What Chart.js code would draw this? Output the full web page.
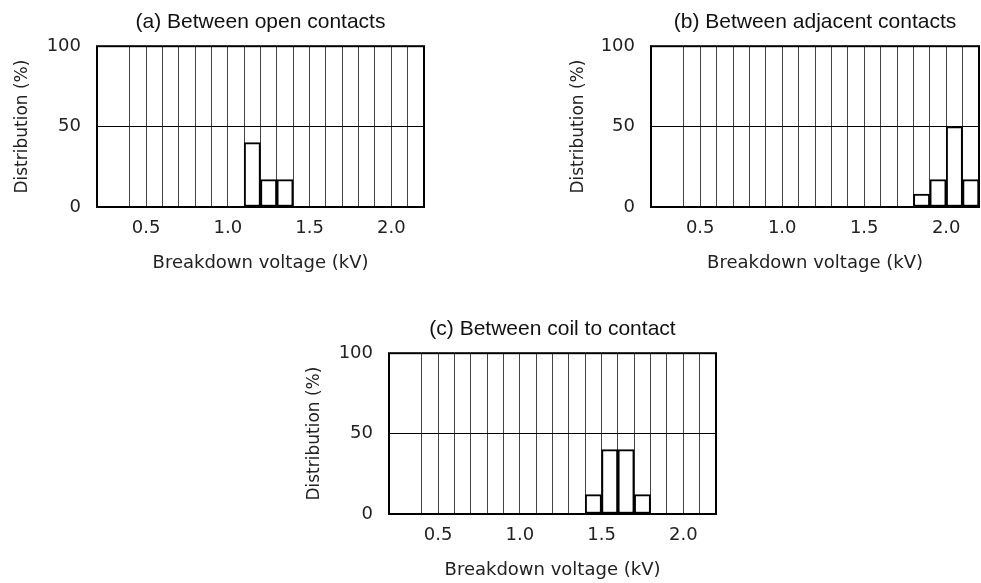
<!DOCTYPE html>
<html>
<head>
<meta charset="utf-8">
<script src="https://cdn.jsdelivr.net/npm/chart.js@4"></script>
<style>
  body { margin: 0; background: #fff; overflow: hidden; }
  .box { position: absolute; }
</style>
</head>
<body>
<div class="box" style="left:0px;top:0px;width:440px;height:276px"><canvas id="chartA"></canvas></div>
<div class="box" style="left:554px;top:0px;width:436px;height:276px"><canvas id="chartB"></canvas></div>
<div class="box" style="left:292px;top:307px;width:440px;height:276px"><canvas id="chartC"></canvas></div>
<script>
// bin centres (kV) and share of samples (%) per panel
const binsA = [1.15, 1.25, 1.35];
const valuesA = [40, 17, 17];
const binsB = [1.85, 1.95, 2.05, 2.15];
const valuesB = [8, 17, 50, 17];
const binsC = [1.45, 1.55, 1.65, 1.75];
const valuesC = [12, 40, 40, 12];

const xTickLabels = ['0.5', '1.0', '1.5', '2.0'];
const yTickLabels = ['0', '50', '100'];

const axisFont = 'DejaVu Sans';
const textColor = '#222';

// box round the plot area
const frame = {
  id: 'frame',
  afterDatasetsDraw(chart) {
    const a = chart.chartArea;
    const c = chart.ctx;
    c.save();
    c.strokeStyle = '#000';
    c.lineWidth = 2;
    c.strokeRect(a.left, a.top, a.right - a.left, a.bottom - a.top);
    c.restore();
  }
};

function makeChart(id, title, bins, values, yTitlePad, padRight) {
  const pts = bins.map((b, i) => ({x: b, y: values[i]}));
  return new Chart(document.getElementById(id), {
    type: 'bar',
    data: {
      datasets: [{
        data: pts,
        backgroundColor: '#fff',
        borderColor: '#000',
        borderWidth: 2,
        borderSkipped: false,
        barPercentage: 1,
        categoryPercentage: 1
      }]
    },
    plugins: [frame],
    options: {
      responsive: true,
      maintainAspectRatio: false,
      animation: false,
      layout: {padding: {left: 0, right: padRight, top: 0, bottom: 0}},
      plugins: {
        legend: {display: false},
        tooltip: {enabled: false},
        title: {
          display: true,
          fullSize: false,
          text: title,
          color: '#111',
          font: {family: 'Liberation Sans', size: 21, weight: 'normal'},
          padding: {top: 10, bottom: 11}
        }
      },
      scales: {
        x: {
          type: 'linear',
          min: 0.2,
          max: 2.2,
          offset: false,
          afterFit(s) { s.height = 69; },
          ticks: {
            stepSize: 0.1,
            autoSkip: false,
            maxRotation: 0,
            padding: 11,
            color: textColor,
            font: {family: axisFont, size: 18},
            callback(v) {
              const t = Number(v).toFixed(1);
              return xTickLabels.includes(t) ? t : '';
            }
          },
          grid: {
            offset: false,
            drawTicks: false,
            lineWidth: 1,
            color(ctx) {
              const t = ctx.tick ? Number(ctx.tick.value).toFixed(1) : '';
              return t === '0.3' ? 'rgba(0,0,0,0)' : '#444';
            }
          },
          border: {display: false},
          title: {
            display: true,
            text: 'Breakdown voltage (kV)',
            color: textColor,
            font: {family: axisFont, size: 18},
            padding: {top: 0, bottom: 2}
          }
        },
        y: {
          min: 0,
          max: 100,
          afterFit(s) { s.width = 97; },
          ticks: {
            stepSize: 50,
            padding: 16,
            color: textColor,
            font: {family: axisFont, size: 18},
            callback(v) {
              const t = String(v);
              return yTickLabels.includes(t) ? t : '';
            }
          },
          grid: {drawTicks: false, color: '#000', lineWidth: 1},
          border: {display: false},
          title: {
            display: true,
            text: 'Distribution (%)',
            color: textColor,
            font: {family: axisFont, size: 17},
            padding: {top: yTitlePad, bottom: 0}
          }
        }
      }
    }
  });
}

makeChart('chartA', '(a) Between open contacts', binsA, valuesA, 12, 16);
makeChart('chartB', '(b) Between adjacent contacts', binsB, valuesB, 14, 0);
makeChart('chartC', '(c) Between coil to contact', binsC, valuesC, 12, 16);
</script>
</body>
</html>
